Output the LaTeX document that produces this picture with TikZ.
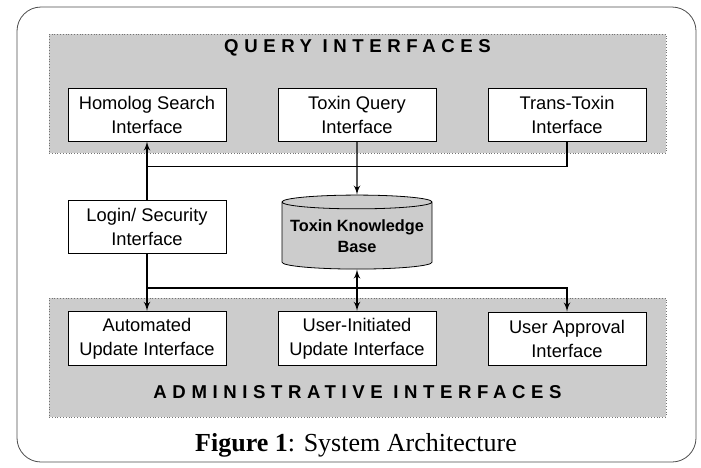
\documentclass[tikz,border=0pt]{standalone}
\usepackage{fontspec}
\setmainfont{Liberation Serif}
\setsansfont{Liberation Sans}
\usetikzlibrary{arrows,positioning,shapes.geometric}
\tikzset{%
	iface/.style     = {draw, rectangle, fill=white, minimum width=79pt, minimum height=26.5pt, align=center, font=\sffamily\fontsize{9.15}{12}\selectfont},
	store/.style     = {draw, cylinder, shape border rotate=90, aspect=0.1, inner sep=1pt, fill=black!20, minimum width=75pt, minimum height=37pt, align=center, font=\sffamily\bfseries\fontsize{8.15}{10.5}\selectfont},
	band/.style      = {draw=black!55, densely dotted, fill=black!20, minimum width=308.5pt, minimum height=59.5pt, inner sep=0pt},
	bandtitle/.style = {font=\sffamily\bfseries\fontsize{9.3}{11}\selectfont\addfontfeature{LetterSpace=30}},
	frame/.style     = {draw=black!70, rounded corners=12pt},
	link/.style      = {line width=0.6pt},
}

\begin{document}
\begin{tikzpicture}[x=0.5pt,y=-0.5pt,node distance=105pt,auto,>=latex']
	\useasboundingbox (0,0) rectangle (701,467);
	\draw[frame] (17,7) rectangle (696,462);
	
	% interface bands
	\node [band] (qband) at (357.5,93.5) {};
	\node [band] (aband) at (357.5,357.5) {};
	\node [bandtitle] (qtitle) at ([yshift=-7pt]qband.north) {QUERY INTERFACES};
	\node [bandtitle] (atitle) at ([yshift=12.5pt]aband.south) {ADMINISTRATIVE INTERFACES};
	
	\node [iface] (homolog) at (147,114.5) {Homolog Search\\Interface};
	\node [iface] (toxq) [right of=homolog] {Toxin Query\\Interface};
	\node [iface] (trans) [right of=toxq] {Trans-Toxin\\Interface};
	\node [iface] (login) [below of=homolog,node distance=56pt] {Login/ Security\\Interface};
	\node [store] (kb) [below of=toxq,node distance=61pt] {Toxin Knowledge\\Base};
	\node [iface] (auto) [below of=login,node distance=56pt] {Automated\\Update Interface};
	\node [iface] (userinit) [right of=auto] {User-Initiated\\Update Interface};
	\node [iface] (approval) [right of=userinit] {User Approval\\Interface};
	\coordinate (qjoin) at ([yshift=-12.5pt]homolog.south);
	\coordinate (ajoin) at ([yshift=11.5pt]auto.north);
	
	\draw[link,->] (login) -- (homolog);
	\draw[link] (trans) |- (qjoin);
	\draw[link,->] (toxq) -- (kb);
	\draw[link,->] (login) -- (auto);
	\draw[link,<->] (kb) -- (userinit);
	\draw[link,->] (ajoin) -| (approval);
	
	\node (caption) at (356,445) {\fontsize{13}{15}\selectfont\textbf{Figure 1}: System Architecture};
\end{tikzpicture}
\end{document}
